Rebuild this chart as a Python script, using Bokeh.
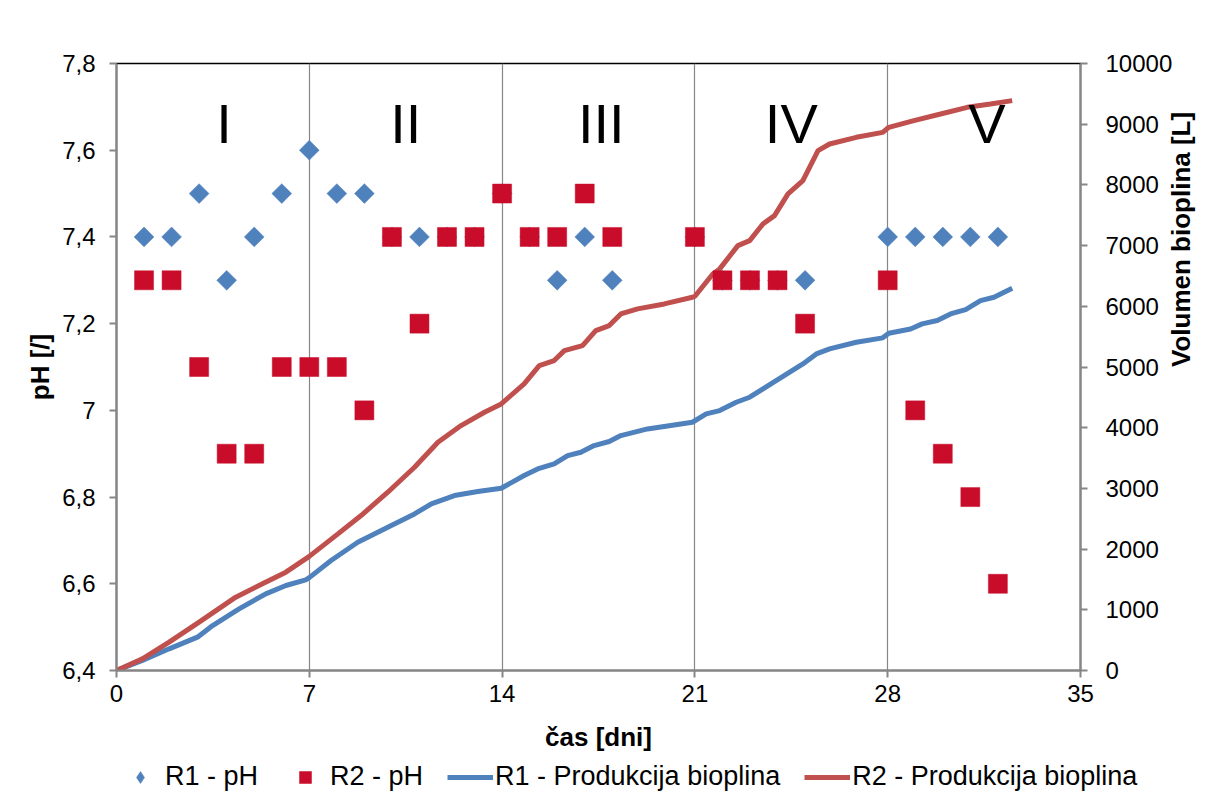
from bokeh.plotting import figure
from bokeh.models import Range1d, LinearAxis, FixedTicker, Legend, LegendItem
from bokeh.layouts import column
from bokeh.embed import file_html
from bokeh.resources import INLINE
from bokeh.core.properties import value
import math

# ---------------- data ----------------
ph_days = [1, 2, 3, 4, 5, 6, 7, 8, 9, 10, 11, 12, 13, 14, 15, 16, 17, 18,
           21, 22, 23, 24, 25, 28, 29, 30, 31, 32]
r1_ph = [7.4, 7.4, 7.5, 7.3, 7.4, 7.5, 7.6, 7.5, 7.5, 7.4, 7.4, 7.4, 7.4, 7.5,
         7.4, 7.3, 7.4, 7.3, 7.4, 7.3, 7.3, 7.3, 7.3, 7.4, 7.4, 7.4, 7.4, 7.4]
r2_ph = [7.3, 7.3, 7.1, 6.9, 6.9, 7.1, 7.1, 7.1, 7.0, 7.4, 7.2, 7.4, 7.4, 7.5,
         7.4, 7.4, 7.5, 7.4, 7.4, 7.3, 7.3, 7.3, 7.2, 7.3, 7.0, 6.9, 6.8, 6.6]

r1_t = [0, 0.94, 1.91, 2.94, 3.49, 4.45, 5.42, 6.15, 6.87, 7.0, 7.79, 8.76, 9.85,
        10.82, 11.43, 12.27, 13.12, 13.97, 14.80, 15.29, 15.89, 16.38, 16.86,
        17.34, 17.89, 18.31, 19.28, 20.91, 21.41, 21.90, 22.50, 22.99, 23.95,
        24.92, 25.41, 25.89, 26.86, 27.82, 28.04, 28.83, 29.25, 29.80, 30.28,
        30.83, 31.37, 31.86, 32.52]
r1_v = [0, 165, 357, 549, 741, 1016, 1263, 1400, 1493, 1530, 1812, 2113, 2361,
        2580, 2745, 2882, 2948, 3003, 3212, 3321, 3404, 3541, 3596,
        3706, 3772, 3870, 3980, 4090, 4227, 4282, 4419, 4502, 4776,
        5051, 5215, 5298, 5408, 5480, 5555, 5627, 5710, 5765, 5874,
        5946, 6094, 6149, 6297]

r2_t = [0, 0.94, 1.91, 3.0, 4.33, 5.30, 6.15, 7.0, 8.04, 8.88, 9.85, 10.82,
        11.67, 12.51, 13.36, 13.97, 14.80, 15.35, 15.89, 16.26, 16.92, 17.40,
        17.89, 18.31, 18.92, 19.89, 20.91, 21.0, 21.65, 21.90, 22.56, 22.99,
        23.47, 23.89, 24.38, 24.92, 25.47, 25.89, 26.86, 27.82, 28.04, 28.95,
        29.92, 30.89, 31.73, 32.52]
r2_v = [0, 192, 467, 796, 1208, 1428, 1620, 1880, 2251, 2553, 2937, 3349,
        3761, 4035, 4255, 4392, 4721, 5023, 5106, 5270, 5353, 5600,
        5682, 5874, 5957, 6039, 6149, 6165, 6533, 6616, 7000, 7082,
        7357, 7494, 7851, 8070, 8564, 8674, 8784, 8866, 8949, 9059,
        9168, 9278, 9333, 9388]

phase_labels = ["I", "II", "III", "IV", "V"]
phase_x = [3.9, 10.5, 17.6, 24.5, 31.6]
phase_y = [7.662] * 5

x_ticks = [0, 7, 14, 21, 28, 35]
ph_ticks = [6.4, 6.6, 6.8, 7.0, 7.2, 7.4, 7.6, 7.8]
ph_tick_labels = ["6,4", "6,6", "6,8", "7", "7,2", "7,4", "7,6", "7,8"]
vol_ticks = [0, 1000, 2000, 3000, 4000, 5000, 6000, 7000, 8000, 9000, 10000]

series_labels = ["R1 - pH", "R2 - pH", "R1 - Produkcija bioplina",
                 "R2 - Produkcija bioplina"]

# ---------------- styles ----------------
FONT = "Liberation Sans"
AXIS_GRAY = "#868686"
BLUE = "#4F81BD"
RED_LINE = "#C0504D"
RED_MARK = "#C80C2A"

p = figure(frame_width=964, frame_height=607, output_backend="svg",
           toolbar_location=None,
           x_range=Range1d(0, 35), y_range=Range1d(6.4, 7.8),
           min_border_left=116, min_border_right=128,
           min_border_top=63, min_border_bottom=88)
p.extra_y_ranges = {"vol": Range1d(0, 10000)}
p.outline_line_color = "black"
p.outline_line_width = 1.5
p.background_fill_color = "white"
p.border_fill_color = "white"

# grid
p.ygrid.visible = False
p.xgrid.ticker = FixedTicker(ticks=[7, 14, 21, 28])
p.xgrid.grid_line_color = AXIS_GRAY
p.xgrid.grid_line_width = 1.2

def style_axis(ax):
    ax.axis_line_color = AXIS_GRAY
    ax.axis_line_width = 2
    ax.major_tick_line_color = AXIS_GRAY
    ax.major_tick_line_width = 2
    ax.major_tick_out = 7
    ax.major_tick_in = 0
    ax.minor_tick_line_color = None
    ax.major_label_text_font = FONT
    ax.major_label_text_font_size = "24px"
    ax.major_label_text_color = "black"
    ax.axis_label_text_font = FONT
    ax.axis_label_text_font_size = "26px"
    ax.axis_label_text_font_style = "bold"
    ax.axis_label_text_color = "black"

xa = p.xaxis[0]
style_axis(xa)
xa.ticker = FixedTicker(ticks=x_ticks)
xa.axis_label = "čas [dni]"
xa.major_label_standoff = 7
xa.axis_label_standoff = 17

ya = p.yaxis[0]
style_axis(ya)
ya.ticker = FixedTicker(ticks=ph_ticks)
ya.major_label_overrides = {t: l for t, l in zip(ph_ticks, ph_tick_labels)}
ya.axis_label = "pH [/]"
ya.major_label_standoff = 14
ya.axis_label_standoff = 4

ra = LinearAxis(y_range_name="vol")
style_axis(ra)
ra.ticker = FixedTicker(ticks=vol_ticks)
ra.axis_label = "Volumen bioplina [L]"
ra.axis_label_orientation = math.pi / 2
ra.major_label_standoff = 18
ra.axis_label_standoff = 6
p.add_layout(ra, "right")

line_kw1 = dict(line_color=BLUE, line_width=5)
line_kw2 = dict(line_color=RED_LINE, line_width=5)
mark_kw1 = dict(marker="square", size=14, angle=math.pi / 4,
                fill_color=BLUE, line_color=BLUE, line_width=0.5)
mark_kw2 = dict(marker="square", size=19,
                fill_color=RED_MARK, line_color=RED_MARK, line_width=0.5)

# lines
p.line(r1_t, r1_v, y_range_name="vol", **line_kw1)
p.line(r2_t, r2_v, y_range_name="vol", **line_kw2)

# markers
p.scatter(ph_days, r1_ph, **mark_kw1)
p.scatter(ph_days, r2_ph, **mark_kw2)

# phase labels
p.text(x=phase_x, y=phase_y, text=phase_labels, text_font=value(FONT),
       text_font_size="56px", text_align="center", text_baseline="alphabetic",
       text_color="black")

# ---------------- legend strip ----------------
# proxy renderers reuse the real data but sit outside this strip's view ranges
lg = figure(frame_width=1208, frame_height=38, output_backend="svg",
            toolbar_location=None, x_range=Range1d(-2, -1),
            y_range=Range1d(-2, -1), min_border=0)
lg.axis.visible = False
lg.grid.visible = False
lg.outline_line_color = None
lg.background_fill_color = "white"
lg.border_fill_color = "white"
g1 = lg.scatter(ph_days, r1_ph, marker="diamond", size=14,
                fill_color=BLUE, line_color=BLUE, line_width=0.5)
g2 = lg.scatter(ph_days, r2_ph, **mark_kw2)
g3 = lg.line(r1_t, r1_v, **line_kw1)
g4 = lg.line(r2_t, r2_v, **line_kw2)

legend = Legend(items=[
    LegendItem(label=series_labels[0], renderers=[g1]),
    LegendItem(label=series_labels[1], renderers=[g2]),
    LegendItem(label=series_labels[2], renderers=[g3]),
    LegendItem(label=series_labels[3], renderers=[g4]),
], orientation="horizontal", location=(117, 4))
legend.label_text_font = FONT
legend.label_text_font_size = "27px"
legend.label_text_color = "black"
legend.label_height = 30
legend.glyph_height = 30
legend.border_line_alpha = 0
legend.background_fill_alpha = 0
legend.glyph_width = 46
legend.label_standoff = 2
legend.spacing = 24
legend.padding = 0
legend.margin = 0
lg.add_layout(legend, "center")

layout = column(p, lg, spacing=0)
open("out.html", "w").write(file_html(layout, INLINE))
